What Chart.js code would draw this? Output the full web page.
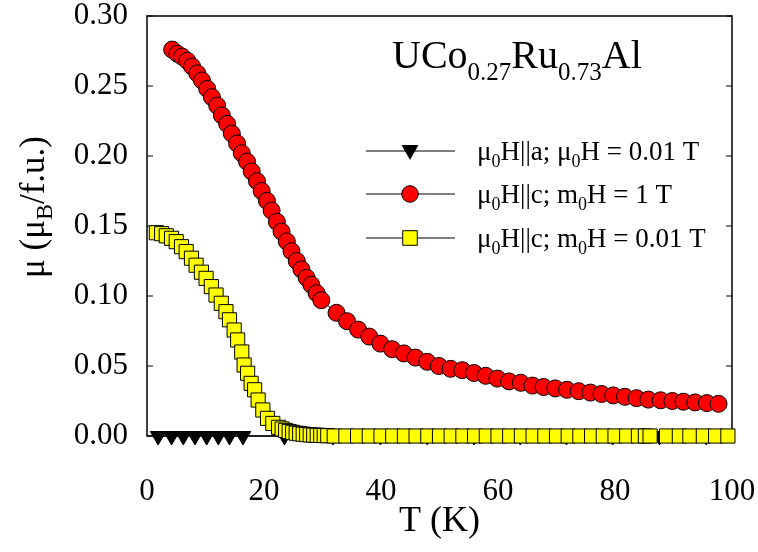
<!DOCTYPE html>
<html>
<head>
<meta charset="utf-8">
<script src="https://cdn.jsdelivr.net/npm/chart.js@4.4.0/dist/chart.umd.min.js"></script>
<style>
  html, body { margin: 0; padding: 0; background: #fff; }
  #wrap { width: 758px; height: 552px; }
</style>
</head>
<body>
<div id="wrap"><canvas id="chart" width="758" height="552"></canvas></div>
<script>
const xTicks = [0, 20, 40, 60, 80, 100];
const yTicks = [0, 0.05, 0.1, 0.15, 0.2, 0.25, 0.3];

// mu0H || a, 0.01 T (black triangles)
const tempA = [1.9, 4.2, 6.2, 8.2, 10.2, 12.2, 14.1, 16.4, 23.5, 31.8, 39.9, 47.9, 55.9, 63.8, 71.7, 79.6, 87.6, 95.6];
const momentA = [0, 0, 0, 0, 0, 0, 0, 0, 0, 0, 0, 0, 0, 0, 0, 0, 0, 0];

// mu0H || c, 1 T (red circles)
const tempC1 = [4.3, 5.2, 6.0, 6.9, 7.7, 8.6, 9.4, 10.3, 11.1, 12.0, 12.8, 13.7, 14.5, 15.4, 16.2, 17.1,
  17.9, 18.8, 19.6, 20.5, 21.3, 22.2, 23.0, 23.9, 24.7, 25.6, 26.4, 27.3, 28.1, 29.0, 29.8,
  32.4, 34.2, 36.1, 38.0, 39.9, 41.9, 43.9, 45.9, 47.9, 49.9, 51.9, 53.9, 55.9, 57.9, 59.9,
  61.9, 63.9, 65.9, 67.8, 69.8, 71.8, 73.8, 75.8, 77.7, 79.7, 81.7, 83.7, 85.7, 87.8, 89.8,
  91.7, 93.7, 95.7, 97.7];
const momentC1 = [0.276, 0.273, 0.271, 0.268, 0.264, 0.259, 0.254, 0.248, 0.242, 0.236, 0.229, 0.223, 0.216, 0.209, 0.202, 0.196,
  0.189, 0.182, 0.175, 0.168, 0.161, 0.153, 0.146, 0.139, 0.132, 0.125, 0.119, 0.113, 0.108, 0.102, 0.097,
  0.088, 0.082, 0.076, 0.071, 0.066, 0.062, 0.059, 0.056, 0.053, 0.050, 0.048, 0.047, 0.045, 0.043, 0.041,
  0.039, 0.038, 0.036, 0.035, 0.034, 0.033, 0.032, 0.031, 0.030, 0.029, 0.028, 0.027, 0.026, 0.0255, 0.025,
  0.0245, 0.024, 0.0235, 0.023];

// mu0H || c, 0.01 T (yellow squares)
const tempC001 = [1.6, 2.5, 3.3, 4.2, 5.0, 5.9, 6.7, 7.6, 8.4, 9.3, 10.1, 11.0, 11.8, 12.7, 13.5, 14.1,
  14.9, 15.5, 16.2, 16.6, 17.2, 17.8, 18.4, 19.0, 19.8, 20.6, 21.5, 22.5, 23.1, 23.7, 24.3, 24.9,
  25.5, 26.1, 26.7, 27.3, 27.9, 28.5, 29.1, 29.7, 30.3, 30.9,
  32, 34, 36, 38, 40, 42, 44, 46, 48, 50, 52, 54, 56, 58, 60, 62, 64, 66, 68, 70, 72, 74, 76, 78,
  80, 82, 84, 85.2, 86.0, 88.8, 91.0, 92.8, 95.1, 97.2, 99.3];
const momentC001 = [0.1452, 0.1445, 0.143, 0.1412, 0.1388, 0.1352, 0.1317, 0.127, 0.122, 0.117, 0.1126, 0.1067, 0.1007, 0.0948, 0.0888, 0.083,
  0.0757, 0.0686, 0.060, 0.0507, 0.0448, 0.0376, 0.033, 0.0257, 0.0186, 0.0126, 0.009, 0.0062, 0.005, 0.004, 0.0032, 0.0026,
  0.002, 0.0016, 0.0013, 0.001, 0.0008, 0.0006, 0.0005, 0.0004, 0.0003, 0.0002,
  0, 0, 0, 0, 0, 0, 0, 0, 0, 0, 0, 0, 0, 0, 0, 0, 0, 0, 0, 0, 0, 0, 0, 0,
  0, 0, 0, 0, 0, 0, 0, 0, 0, 0, 0];

const serif = "'Liberation Serif', 'Times New Roman', serif";

function toPoints(xs, ys) {
  return xs.map((x, i) => ({ x: x, y: ys[i] }));
}

// text with subscripts: parts = [[text, isSub], ...]
function richWidth(ctx, parts, size, subSize) {
  let w = 0;
  parts.forEach(([t, sub]) => {
    ctx.font = (sub ? subSize : size) + "px " + serif;
    w += ctx.measureText(t).width;
  });
  return w;
}
function drawRich(ctx, parts, x, y, size, subSize, drop) {
  parts.forEach(([t, sub]) => {
    ctx.font = (sub ? subSize : size) + "px " + serif;
    ctx.fillText(t, x, sub ? y + drop : y);
    x += ctx.measureText(t).width;
  });
}

const framePlugin = {
  id: "frame",
  beforeDatasetsDraw(chart) {
    const { ctx, chartArea: a, scales } = chart;
    ctx.save();
    ctx.strokeStyle = "#000";
    ctx.lineWidth = 1.5;
    ctx.strokeRect(a.left, a.top, a.right - a.left, a.bottom - a.top);
    ctx.lineWidth = 1.2;
    ctx.beginPath();
    yTicks.forEach((v) => {
      const y = scales.y.getPixelForValue(v);
      ctx.moveTo(a.left, y); ctx.lineTo(a.left + 6, y);
      ctx.moveTo(a.right, y); ctx.lineTo(a.right - 6, y);
    });
    ctx.stroke();
    ctx.restore();
  },
  afterDraw(chart) {
    const { ctx, chartArea: a } = chart;
    ctx.save();
    ctx.fillStyle = "#000";
    ctx.textBaseline = "alphabetic";
    ctx.textAlign = "left";

    // compound name
    drawRich(ctx, [["UCo", false], ["0.27", true], ["Ru", false], ["0.73", true], ["Al", false]], 392, 68, 40, 25, 12);

    // legend
    const rows = [
      { y: 151, parts: [["\u03bc", false], ["0", true], ["H||a; \u03bc", false], ["0", true], ["H = 0.01 T", false]] },
      { y: 194, parts: [["\u03bc", false], ["0", true], ["H||c; m", false], ["0", true], ["H = 1 T", false]] },
      { y: 238, parts: [["\u03bc", false], ["0", true], ["H||c; m", false], ["0", true], ["H = 0.01 T", false]] },
    ];
    rows.forEach((r, i) => {
      ctx.strokeStyle = "#000";
      ctx.lineWidth = 1;
      ctx.beginPath();
      ctx.moveTo(366, r.y); ctx.lineTo(455, r.y);
      ctx.stroke();
      ctx.beginPath();
      if (i === 0) {
        ctx.moveTo(410, r.y + 9);
        ctx.lineTo(401.5, r.y - 6);
        ctx.lineTo(418.5, r.y - 6);
        ctx.closePath();
        ctx.fillStyle = "#000";
        ctx.fill();
      } else if (i === 1) {
        ctx.arc(410, r.y, 8.3, 0, Math.PI * 2);
        ctx.fillStyle = "#ff0000";
        ctx.fill();
        ctx.stroke();
      } else {
        ctx.rect(402.7, r.y - 7.3, 14.6, 14.6);
        ctx.fillStyle = "#ffff00";
        ctx.fill();
        ctx.stroke();
      }
      ctx.fillStyle = "#000";
      drawRich(ctx, r.parts, 477, r.y + 9, 27, 18, 7);
    });

    // x axis title
    ctx.font = "36px " + serif;
    ctx.textAlign = "center";
    ctx.fillText("T (K)", (a.left + a.right) / 2, 531);

    // y axis title (rotated)
    const yParts = [["\u03bc (\u03bc", false], ["B", true], ["/f.u.)", false]];
    ctx.textAlign = "left";
    ctx.translate(44, 207);
    ctx.rotate(-Math.PI / 2);
    const w = richWidth(ctx, yParts, 35, 24);
    drawRich(ctx, yParts, -w / 2, 0, 35, 24, 8);
    ctx.restore();
  },
};

const ctx = document.getElementById("chart").getContext("2d");
new Chart(ctx, {
  type: "scatter",
  data: {
    datasets: [
      {
        label: "\u03bc0H||c; m0H = 0.01 T",
        data: toPoints(tempC001, momentC001),
        showLine: true,
        borderColor: "#000",
        borderWidth: 1,
        pointStyle: "rect",
        pointRadius: 10,
        pointBackgroundColor: "#ffff00",
        pointBorderColor: "#000",
        pointBorderWidth: 1,
        clip: false,
        order: 0,
      },
      {
        label: "\u03bc0H||c; m0H = 1 T",
        data: toPoints(tempC1, momentC1),
        showLine: true,
        borderColor: "#000",
        borderWidth: 1,
        pointStyle: "circle",
        pointRadius: 8.5,
        pointBackgroundColor: "#ff0000",
        pointBorderColor: "#000",
        pointBorderWidth: 1,
        clip: false,
        order: 1,
      },
      {
        label: "\u03bc0H||a; \u03bc0H = 0.01 T",
        data: toPoints(tempA, momentA),
        showLine: true,
        borderColor: "#000",
        borderWidth: 1,
        pointStyle: "triangle",
        pointRotation: 180,
        pointRadius: 9,
        pointBackgroundColor: "#000",
        pointBorderColor: "#000",
        pointBorderWidth: 1,
        clip: false,
        order: 2,
      },
    ],
  },
  options: {
    responsive: false,
    animation: false,
    layout: { padding: { left: 0, right: 26, top: 16, bottom: 0 } },
    plugins: {
      legend: { display: false },
      tooltip: { enabled: false },
      title: { display: false },
    },
    scales: {
      x: {
        type: "linear",
        min: 0,
        max: 100,
        grid: { display: false, drawTicks: false },
        border: { display: false },
        afterBuildTicks: (s) => { s.ticks = xTicks.map((v) => ({ value: v })); },
        afterFit: (s) => { s.height = 116; s.paddingLeft = 0; s.paddingRight = 0; },
        ticks: {
          padding: 40,
          color: "#000",
          font: { family: serif, size: 31, lineHeight: 1 },
          maxRotation: 0,
        },
      },
      y: {
        type: "linear",
        min: 0,
        max: 0.3,
        grid: { display: false, drawTicks: false },
        border: { display: false },
        afterBuildTicks: (s) => { s.ticks = yTicks.map((v) => ({ value: v })); },
        afterFit: (s) => { s.width = 147; s.paddingTop = 0; s.paddingBottom = 0; },
        ticks: {
          padding: 19,
          color: "#000",
          font: { family: serif, size: 31, lineHeight: 1 },
          callback: (v) => v.toFixed(2),
        },
      },
    },
  },
  plugins: [framePlugin],
});
</script>
</body>
</html>
